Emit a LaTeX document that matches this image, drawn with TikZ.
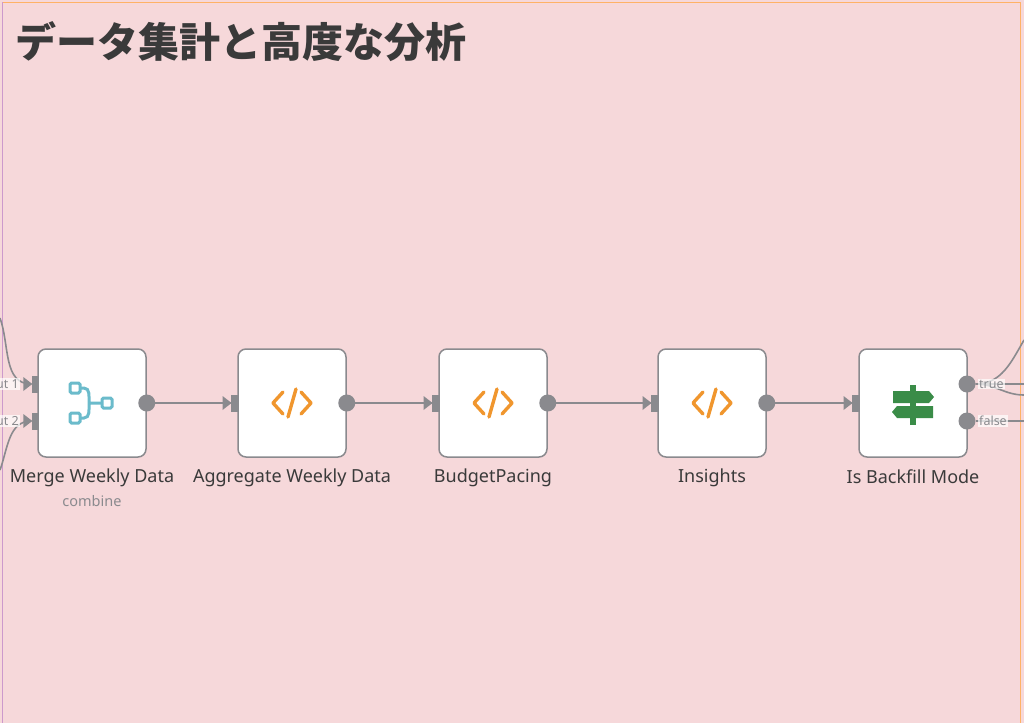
\documentclass[tikz,border=0pt]{standalone}
\usepackage{fontspec}
\setmainfont{Noto Sans}
\newfontfamily\cjk{Noto Sans CJK JP}
\usetikzlibrary{positioning}
\usetikzlibrary{calc}
\definecolor{bgpink}{HTML}{F6D8DA}
\definecolor{edgegray}{HTML}{8A8A8E}
\definecolor{codeorange}{HTML}{F0962E}
\definecolor{mergeteal}{HTML}{6BBBCB}
\definecolor{ifgreen}{HTML}{3A8C48}
\definecolor{textgray}{HTML}{3A3A3A}
\tikzset{
  nodebox/.style={draw=edgegray, line width=1.5pt, fill=white, rounded corners=8pt, minimum width=108pt, minimum height=108pt, inner sep=0pt},
  nodelabel/.style={text=textgray, font=\fontsize{18}{20}\selectfont},
  link/.style={draw=edgegray, line width=1.6pt},
  outdot/.style={circle, fill=edgegray, inner sep=0pt, minimum size=17pt},
  inport/.style={fill=edgegray, inner sep=0pt, minimum width=7pt, minimum height=17pt},
  portlabel/.style={fill=white, fill opacity=0.7, text opacity=1, text=edgegray, inner sep=1pt, font=\fontsize{12.5}{13}\selectfont},
}
\newcommand{\codeicon}[1]{%
  \draw[codeorange, line width=3.4pt, line cap=round, line join=round]
    ($(#1)+(-9,-11)$) -- ($(#1)+(-19,0)$) -- ($(#1)+(-9,11)$)
    ($(#1)+(9,-11)$) -- ($(#1)+(19,0)$) -- ($(#1)+(9,11)$)
    ($(#1)+(4,-14)$) -- ($(#1)+(-4,14)$);}
\begin{document}
\begin{tikzpicture}[x=1pt,y=-1pt]
\useasboundingbox (0,0) rectangle (1024,723);
\fill[bgpink] (0,0) rectangle (1024,723);
\draw[orange!60, line width=1pt] (2,2) -- (1020,2) -- (1020,723);
\draw[violet!40, line width=1pt] (2,2) -- (2,723);
\node[anchor=west, text=textgray, font=\cjk\bfseries\fontsize{41}{45}\selectfont] (title) at (12,42) {データ集計と高度な分析};

% nodes
\node[nodebox] (merge) at (92,403) {};
\node[nodebox] (aggregate) at (292,403) {};
\node[nodebox] (budget) at (493,403) {};
\node[nodebox] (insights) at (712,403) {};
\node[nodebox] (backfill) at (913,403) {};

\node[nodelabel, below=8pt of merge] (mergelbl) {Merge Weekly Data};
\node[text=edgegray, font=\fontsize{14.5}{16}\selectfont, below=1pt of mergelbl] (mergesub) {combine};
\node[nodelabel, below=8pt of aggregate] (aggregatelbl) {Aggregate Weekly Data};
\node[nodelabel, below=8pt of budget] (budgetlbl) {BudgetPacing};
\node[nodelabel, below=8pt of insights] (insightslbl) {Insights};
\node[nodelabel, below=8pt of backfill] (backfilllbl) {Is Backfill Mode};

% icons
\codeicon{aggregate}
\codeicon{budget}
\codeicon{insights}
\begin{scope}[shift={(merge.center)}]
  \draw[mergeteal, line width=3pt] (-15,-15) -- (-8,-15) to[out=0,in=90] (-3,0) to[out=-90,in=0] (-8,15) -- (-15,15) (-3,0) -- (10,0);
  \draw[mergeteal, line width=3pt, fill=white, rounded corners=1.5pt]
    (-22,-20) rectangle (-12,-10) (-22,10) rectangle (-12,20) (10,-5) rectangle (20,5);
\end{scope}
\begin{scope}[shift={(backfill.center)}]
  \fill[ifgreen] (-3,-18) rectangle (3,22);
  \fill[ifgreen] (-20,-12) -- (16,-12) -- (21,-6) -- (16,0) -- (-20,0) -- cycle;
  \fill[ifgreen] (-16,3) -- (20,3) -- (20,15) -- (-16,15) -- (-21,9) -- cycle;
\end{scope}

% ports
\node[inport] (mergein1) at (35,384) {};
\node[inport] (mergein2) at (35,421) {};
\node[inport] (aggregatein) at ([xshift=-3pt]aggregate.west) {};
\node[inport] (budgetin) at ([xshift=-3pt]budget.west) {};
\node[inport] (insightsin) at ([xshift=-3pt]insights.west) {};
\node[inport] (backfillin) at ([xshift=-3pt]backfill.west) {};
\node[outdot] (mergeout) at (merge.east) {};
\node[outdot] (aggregateout) at (aggregate.east) {};
\node[outdot] (budgetout) at (budget.east) {};
\node[outdot] (insightsout) at (insights.east) {};
\node[outdot] (backfilltrue) at (967,384) {};
\node[outdot] (backfillfalse) at (967,421) {};

% connectors
\foreach \a/\b in {mergeout/aggregatein, aggregateout/budgetin, budgetout/insightsin, insightsout/backfillin}
  \draw[link] (\a) -- (\b.west);
\coordinate (leftA) at (0,318);
\coordinate (leftB) at (0,470);
\coordinate (rightA) at (1024,340);
\coordinate (rightB) at (1024,384);
\coordinate (rightC) at (1024,395);
\coordinate (rightD) at (1024,421);
\draw[link] (leftA) to[out=-70,in=180] (mergein1.west);
\draw[link] (leftB) to[out=70,in=180] (mergein2.west);
\draw[link] (backfilltrue) to[out=0,in=-120] (rightA);
\draw[link] (backfilltrue) -- (rightB);
\draw[link] (backfilltrue) to[out=0,in=180] (rightC);
\draw[link] (backfillfalse) -- (rightD);
\foreach \p in {mergein1, mergein2, aggregatein, budgetin, insightsin, backfillin}
  \fill[edgegray] ([xshift=1pt]\p.west) -- ++(-9,-7) -- ++(0,14) -- cycle;
\node[portlabel, anchor=east] (in1lbl) at (20,384) {ut 1};
\node[portlabel, anchor=east] (in2lbl) at (20,421) {ut 2};
\node[portlabel, anchor=west] (truelbl) at (978,384) {true};
\node[portlabel, anchor=west] (falselbl) at (978,421) {false};
\end{tikzpicture}
\end{document}
